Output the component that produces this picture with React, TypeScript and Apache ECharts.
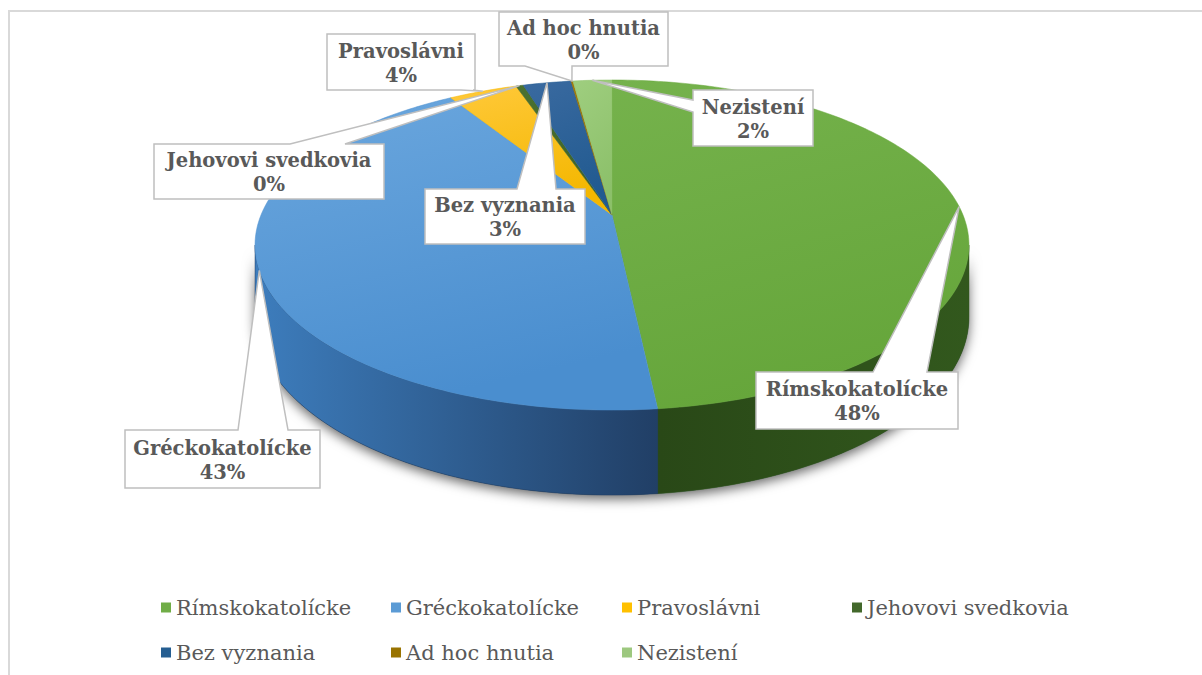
import React, { useEffect, useRef } from "react";
import * as echarts from "echarts";

const categories = [
  "Rímskokatolícke",
  "Gréckokatolícke",
  "Pravoslávni",
  "Jehovovi svedkovia",
  "Bez vyznania",
  "Ad hoc hnutia",
  "Nezistení",
];
const values = [48.3, 42.8, 3.7, 0.4, 2.6, 0.1, 2.1];
const colors = ["#70ad47", "#5b9bd5", "#ffc000", "#43682b", "#255e91", "#997300", "#9dc87f"];

// styling (not data)
const topGrad = [
  ["#75b24c", "#66a63b"],
  ["#6ba7de", "#4a8ecf"],
  ["#ffc93a", "#f4b700"],
  ["#4b7131", "#3e6227"],
  ["#3a6aa0", "#215a90"],
  ["#a57d08", "#8f6b00"],
  ["#9fce7f", "#8cc06a"],
];
const sideGrad = [
  ["#294817", "#32581d"],
  ["#3d7dbd", "#213f66"],
  ["#c99700", "#a07b00"],
  ["#2e4a1d", "#2e4a1d"],
  ["#1c4670", "#1c4670"],
  ["#6e5200", "#6e5200"],
  ["#6d9a51", "#6d9a51"],
];

// projection of the tilted pie (layout)
const CX = 612, CY = 215, A = 351, B = 159.6, U = 0.182, T = 69.5;
function proj(deg: number, depth = 0): number[] {
  const t = (deg * Math.PI) / 180;
  const k = 1 + U * Math.cos(t);
  return [CX + (A * Math.sin(t)) / k, CY - (B * Math.cos(t)) / k + (depth * T) / k];
}
function arc(d1: number, d2: number, depth: number): number[][] {
  const pts: number[][] = [];
  const n = Math.max(1, Math.ceil((d2 - d1) / 1));
  for (let j = 0; j <= n; j++) pts.push(proj(d1 + ((d2 - d1) * j) / n, depth));
  return pts;
}
const SIL1 = (Math.acos(-U) * 180) / Math.PI;
const SIL2 = 360 - SIL1;

// label callout layout: box + pointer base
const labelBoxes = [
  { x: 756, y: 372, w: 202, h: 57, edge: "top", b: [873, 927] },
  { x: 125, y: 430, w: 195, h: 58, edge: "top", b: [238, 288] },
  { x: 327, y: 34, w: 148, h: 56, edge: "bottom", b: [461, 473] },
  { x: 154, y: 144, w: 230, h: 55, edge: "top", b: [290, 345] },
  { x: 425, y: 189, w: 160, h: 55, edge: "top", b: [517, 556] },
  { x: 499, y: 12, w: 169, h: 54, edge: "bottom", b: [525, 572] },
  { x: 693, y: 90, w: 120, h: 56, edge: "left", b: [100, 112] },
];
const legendPos = [
  [161, 597], [391, 597], [622, 597], [852, 597],
  [161, 642], [391, 642], [622, 642],
];

export default function App() {
  const ref = useRef<HTMLDivElement>(null);
  useEffect(() => {
    if (!ref.current) return;
    const chart = echarts.init(ref.current, undefined, { renderer: "svg" });
    const total = values.reduce((s, v) => s + v, 0);
    const starts: number[] = [];
    let acc = 0;
    values.forEach((v) => {
      starts.push((acc / total) * 360);
      acc += v;
    });

    const lg = (c: string[], x0: number, y0: number, x1: number, y1: number) =>
      new echarts.graphic.LinearGradient(x0, y0, x1, y1, [
        { offset: 0, color: c[0] },
        { offset: 1, color: c[1] },
      ]);

    const shadowSeries = {
      type: "custom",
      name: "__shadow",
      coordinateSystem: "none",
      silent: true,
      data: [[1]],
      renderItem: () => ({
        type: "polygon",
        shape: { points: arc(SIL1, SIL2, 0).concat(arc(SIL1, SIL2, 1).reverse()) },
        style: {
          fill: "#2a3a40",
          shadowBlur: 12,
          shadowOffsetY: 4,
          shadowColor: "rgba(0,0,0,0.6)",
        },
      }),
    };

    const sliceSeries = categories.map((name, i) => ({
      type: "custom",
      name,
      coordinateSystem: "none",
      data: [[values[i]]],
      itemStyle: { color: colors[i] },
      renderItem: (params: any, api: any) => {
        const v = api.value(0);
        const start = starts[i];
        const end = start + (v / total) * 360;
        const children: any[] = [];
        const a = Math.max(start, SIL1);
        const b = Math.min(end, SIL2);
        if (b > a) {
          children.push({
            type: "polygon",
            shape: { points: arc(a, b, 0).concat(arc(a, b, 1).reverse()) },
            style: { fill: lg(sideGrad[i], 0, 0, 1, 0), stroke: sideGrad[i][1], lineWidth: 0.5 },
          });
        }
        children.push({
          type: "polygon",
          shape: { points: [[CX, CY]].concat(arc(start, end, 0)) },
          style: { fill: lg(topGrad[i], 0, 0, 0.3, 1), stroke: topGrad[i][1], lineWidth: 0.5 },
        });
        return { type: "group", children };
      },
    }));

    const labelEls: any[] = [];
    labelBoxes.forEach((bx, i) => {
      const mid = starts[i] + ((values[i] / total) * 360) / 2;
      const tip = proj(mid, 0);
      const { x, y, w, h, edge, b } = bx;
      let pts: number[][];
      if (edge === "top") {
        pts = [[x, y], [b[0], y], tip, [b[1], y], [x + w, y], [x + w, y + h], [x, y + h]];
      } else if (edge === "bottom") {
        pts = [[x, y], [x + w, y], [x + w, y + h], [b[1], y + h], tip, [b[0], y + h], [x, y + h]];
      } else {
        pts = [[x, y], [x + w, y], [x + w, y + h], [x, y + h], [x, b[1]], tip, [x, b[0]]];
      }
      labelEls.push({
        type: "polygon",
        z: 100,
        silent: true,
        shape: { points: pts },
        style: { fill: "#ffffff", stroke: "#bfbfbf", lineWidth: 1.5 },
      });
      labelEls.push({
        type: "text",
        z: 101,
        silent: true,
        x: x + w / 2,
        y: y + h / 2 + 1,
        style: {
          text: `${categories[i]}\n${Math.round((values[i] / total) * 100)}%`,
          align: "center",
          verticalAlign: "middle",
          font: 'bold 19.5px "DejaVu Serif"',
          lineHeight: 24,
          fill: "#595959",
        },
      });
    });

    const option: any = {
      animation: false,
      color: colors,
      legend: categories.map((name, i) => ({
        data: [name],
        left: legendPos[i][0],
        top: legendPos[i][1],
        padding: 0,
        icon: "rect",
        itemWidth: 10,
        itemHeight: 10,
        selectedMode: false,
        textStyle: { fontFamily: "DejaVu Serif", fontSize: 21, color: "#595959" },
      })),
      series: [shadowSeries, ...sliceSeries],
      graphic: [
        {
          type: "rect",
          z: 0,
          silent: true,
          shape: { x: 9, y: 11, width: 1300, height: 700 },
          style: { fill: "none", stroke: "#d9d9d9", lineWidth: 2 },
        },
        ...labelEls,
      ],
    };
    chart.setOption(option);
    return () => chart.dispose();
  }, []);
  return (
    <div
      ref={ref}
      style={{ position: "absolute", left: 0, top: 0, width: 1202, height: 675, background: "#fff" }}
    />
  );
}
